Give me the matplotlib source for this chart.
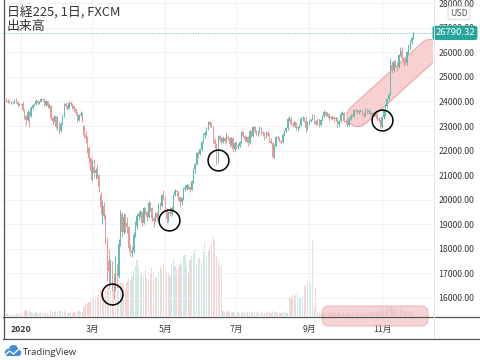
import numpy as np
import pandas as pd
import matplotlib
matplotlib.use('Agg')
import matplotlib.pyplot as plt
from matplotlib.patches import FancyBboxPatch, Circle, Rectangle
from matplotlib.ticker import StrMethodFormatter

plt.rcParams['font.family'] = ['Noto Sans CJK JP', 'DejaVu Sans']

# ---------------- data (daily OHLC, weekdays 2019-12-18 .. 2020-11-27) ----------------
dates = pd.bdate_range('2019-12-18', '2020-11-27')

opens = [
    24150, 24100, 24020, 23980, 23960, 23940, 23950, 24060, 23990, 23850,
    23880, 23900, 23650, 23400, 23250, 23550, 23400, 23750, 23850, 23900, 24030, 23940, 23990, 24100, 24060, 23850, 24010, 23800, 23830, 23320, 23200, 23400, 22980,
    23150, 22800, 23100, 23400, 23900, 23800, 23700, 23950, 23880, 23800, 23700, 23520, 23250, 23450, 23500, 23000, 22650, 22500, 22100, 21700,
    21150, 21350, 21100, 21200, 21000, 20200, 19700, 19750, 19350, 18400, 17500, 17100, 17200, 16600, 16500, 17300, 16900, 18200, 19400, 18700, 19300, 19050,
    18900, 18050, 17850, 17900, 18550, 18950, 19350, 19400, 19500, 19050, 19650, 19500, 19300, 19850, 19650, 19250, 19150, 19450, 19250, 19800, 19750, 20200,
    20150, 19600, 19200, 19500, 19400, 19650, 20200, 20350, 20300, 20100, 19900, 20050, 20450, 20450, 20600, 20500, 20400, 20750, 21250, 21450, 21900,
    21850, 22050, 22350, 22650, 22700, 22900, 23150, 23050, 23000, 22400, 22250, 21550, 22600, 22450, 22350, 22500, 22400, 22550, 22500, 22250, 22500, 22050,
    22300, 22150, 22200, 22350, 22750, 22600, 22450, 22550, 22300, 22800, 22600, 22950, 22780, 22700, 22730, 22900, 22750, 22700, 22550, 22720, 22650, 22400, 22300,
    21750, 22200, 22550, 22500, 22400, 22350, 22650, 22800, 22900, 23300, 23300, 23100, 23050, 23150, 22900, 22950, 23050, 23300, 23300, 23200, 22900,
    23150, 23200, 23280, 23450, 23200, 23100, 23280, 23050, 23250, 23400, 23580, 23450, 23500, 23320, 23380, 23350, 23300, 23320, 23080, 23200, 23500, 23520,
    23200, 23180, 23050, 23300, 23420, 23400, 23650, 23620, 23560, 23600, 23640, 23500, 23420, 23700, 23560, 23630, 23470, 23530, 23480, 23490, 23300, 23250,
    22980, 23350, 23600, 23800, 24100, 24300, 25500, 25300, 25600, 25450, 25400, 25900, 26050, 25750, 25600, 25550, 26000, 26300, 26400, 26600,
]
highs = [
    24200, 24150, 24080, 24050, 24000, 23980, 24080, 24120, 24020, 23920,
    23950, 24000, 23700, 23450, 23650, 23600, 23800, 23900, 23950, 24080, 24060, 24020, 24150, 24140, 24080, 24050, 24030, 23900, 23840, 23400, 23450, 23420, 23400,
    23200, 23150, 23450, 23950, 23980, 23850, 24020, 24000, 23920, 23850, 23720, 23550, 23500, 23600, 23550, 23050, 22800, 22600, 22200, 21750,
    21600, 21650, 21300, 21450, 21050, 20300, 20000, 19900, 19400, 18500, 18000, 17600, 17500, 17000, 17700, 17400, 18400, 19600, 19500, 19450, 19400, 19300,
    18950, 18200, 18100, 18700, 19150, 19450, 19550, 19580, 19550, 19700, 19700, 19550, 19950, 19900, 19700, 19300, 19500, 19500, 19850, 19900, 20250, 20400,
    20150, 19650, 19550, 19700, 19750, 20250, 20450, 20400, 20350, 20150, 20100, 20500, 20600, 20650, 20650, 20550, 20800, 21300, 21500, 21950, 22000,
    22100, 22400, 22700, 22800, 22950, 23200, 23200, 23150, 23000, 22500, 22300, 22650, 22650, 22550, 22600, 22550, 22700, 22650, 22550, 22550, 22500, 22350,
    22400, 22300, 22400, 22800, 22800, 22650, 22600, 22600, 22850, 22850, 23000, 23000, 22850, 22800, 23000, 22950, 22800, 22750, 22800, 22800, 22700, 22500, 22350,
    22250, 22600, 22650, 22550, 22450, 22700, 22850, 22950, 23350, 23400, 23350, 23150, 23200, 23150, 23000, 23100, 23350, 23400, 23350, 23350, 23200,
    23250, 23300, 23500, 23450, 23250, 23300, 23300, 23300, 23450, 23650, 23600, 23550, 23520, 23420, 23450, 23400, 23380, 23350, 23250, 23550, 23600, 23550,
    23300, 23250, 23350, 23480, 23500, 23680, 23700, 23680, 23650, 23700, 23650, 23550, 23750, 23720, 23680, 23650, 23580, 23560, 23550, 23500, 23380, 23280,
    23400, 23650, 23900, 24150, 24350, 25750, 25650, 25700, 25700, 25600, 25950, 26220, 26200, 25800, 25750, 26050, 26350, 26500, 26650, 26830,
]
lows = [
    24050, 23980, 23950, 23920, 23900, 23900, 23930, 23950, 23820, 23800,
    23850, 23600, 23300, 23050, 23200, 22960, 23380, 23700, 23800, 23850, 23880, 23900, 23960, 24000, 23800, 23830, 23750, 23750, 23250, 23100, 23150, 22900, 22850,
    22680, 22750, 23050, 23380, 23750, 23650, 23680, 23800, 23700, 23600, 23450, 23150, 23200, 23350, 23150, 22500, 22300, 21900, 21500, 20800,
    20800, 20900, 20850, 20900, 20300, 19400, 19000, 19200, 18200, 16700, 16400, 16600, 16300, 15950, 16300, 16400, 16800, 18100, 18500, 18600, 18700, 18650,
    17900, 17700, 17650, 17850, 18500, 18800, 19200, 19300, 18950, 19000, 19400, 19150, 19250, 19550, 19150, 18900, 19100, 19150, 19200, 19600, 19700, 20000,
    19550, 19050, 19100, 19350, 19350, 19600, 20150, 20150, 20000, 19700, 19800, 20000, 20350, 20400, 20450, 20300, 20380, 20700, 21100, 21400, 21700,
    21800, 22000, 22300, 22500, 22650, 22850, 22950, 22900, 22300, 22100, 21400, 21500, 22350, 22250, 22300, 22250, 22350, 22450, 22150, 22200, 21950, 22000,
    22050, 22050, 22150, 22300, 22550, 22350, 22400, 22200, 22250, 22550, 22550, 22700, 22650, 22600, 22700, 22650, 22600, 22450, 22500, 22600, 22350, 22250, 21700,
    21700, 22150, 22450, 22350, 22250, 22300, 22600, 22750, 22850, 23200, 23050, 22950, 23000, 22850, 22800, 22900, 23000, 23200, 23150, 22700, 22850,
    23050, 23150, 23250, 23100, 23050, 23050, 22950, 23000, 23200, 23380, 23400, 23400, 23250, 23280, 23250, 23150, 23200, 22950, 23000, 23180, 23450, 23150,
    23100, 22950, 23000, 23250, 23350, 23380, 23550, 23500, 23500, 23550, 23450, 23350, 23400, 23500, 23500, 23420, 23450, 23400, 23420, 23200, 23150, 22900,
    22900, 23300, 23400, 23750, 24000, 24250, 25150, 25200, 25350, 25250, 25350, 25850, 25700, 25450, 25480, 25500, 25950, 26150, 26350, 26550,
]
closes = [
    24100, 24020, 23980, 23960, 23940, 23950, 24060, 23990, 23850, 23880,
    23900, 23650, 23400, 23250, 23550, 23400, 23750, 23850, 23900, 24030, 23940, 23990, 24100, 24060, 23850, 24010, 23800, 23830, 23320, 23200, 23400, 22980, 23150,
    22800, 23100, 23400, 23900, 23800, 23700, 23950, 23880, 23800, 23700, 23520, 23250, 23450, 23500, 23250, 22650, 22500, 22100, 21700, 21150,
    21350, 21100, 21200, 21000, 20500, 19700, 19750, 19350, 18400, 17500, 17100, 17200, 16600, 16500, 17300, 16900, 18200, 19400, 18700, 19300, 19050, 18900,
    18050, 17850, 17900, 18550, 18950, 19350, 19400, 19500, 19050, 19650, 19500, 19300, 19850, 19650, 19250, 19150, 19450, 19250, 19800, 19750, 20200, 20150,
    19600, 19200, 19500, 19400, 19650, 20200, 20350, 20300, 20100, 19900, 20050, 20450, 20450, 20600, 20500, 20400, 20750, 21250, 21450, 21900, 21850,
    22050, 22350, 22650, 22700, 22900, 23150, 23050, 23000, 22400, 22250, 21550, 22600, 22450, 22350, 22500, 22400, 22550, 22500, 22250, 22500, 22050, 22300,
    22150, 22200, 22350, 22750, 22600, 22450, 22550, 22300, 22800, 22600, 22950, 22780, 22700, 22730, 22900, 22750, 22700, 22550, 22720, 22650, 22400, 22300, 21750,
    22200, 22550, 22500, 22400, 22350, 22650, 22800, 22900, 23300, 23300, 23100, 23050, 23150, 22900, 22950, 23050, 23300, 23300, 23200, 22900, 23150,
    23200, 23280, 23450, 23200, 23100, 23280, 23050, 23250, 23400, 23580, 23450, 23500, 23320, 23380, 23350, 23300, 23320, 23080, 23200, 23500, 23520, 23200,
    23180, 23050, 23300, 23420, 23400, 23650, 23620, 23560, 23600, 23640, 23500, 23420, 23700, 23560, 23630, 23470, 23530, 23480, 23490, 23300, 23250, 22980,
    23350, 23600, 23800, 24100, 24250, 25500, 25300, 25600, 25450, 25400, 25900, 26050, 25750, 25600, 25550, 26000, 26300, 26400, 26600, 26790.32,
]
volumes = [
    2, 2, 3, 2, 1, 1, 2, 2, 3, 2,
    1, 3, 5, 6, 5, 6, 4, 3, 3, 4, 3, 3, 4, 3, 3, 3, 3, 2, 5, 4, 4, 5, 5,
    6, 5, 5, 6, 4, 3, 3, 4, 3, 4, 3, 4, 5, 4, 4, 9, 11, 13, 14, 17,
    16, 18, 17, 19, 22, 26, 24, 22, 27, 29, 28, 26, 30, 27, 22, 25, 30, 34, 33, 30, 28, 34,
    38, 36, 40, 45, 50, 56, 48, 42, 44, 40, 46, 38, 36, 42, 48, 44, 40, 38, 45, 50, 46, 53,
    48, 44, 42, 40, 52, 58, 50, 46, 48, 52, 54, 60, 61, 50, 44, 56, 60, 62, 66, 52, 58,
    58, 55, 64, 74, 60, 66, 70, 72, 79, 76, 60, 54, 50, 52, 5, 4, 4, 5, 4, 3, 4, 5,
    4, 4, 3, 4, 5, 4, 3, 4, 4, 3, 5, 4, 3, 4, 3, 4, 3, 3, 4, 3, 4, 3, 5,
    4, 4, 3, 3, 3, 4, 4, 3, 5, 19, 19, 21, 20, 22, 23, 18, 17, 19, 30, 31, 33,
    34, 32, 76, 8, 28, 4, 3, 3, 4, 3, 4, 3, 3, 4, 3, 4, 3, 3, 4, 3, 4, 3,
    3, 4, 3, 3, 4, 3, 4, 3, 4, 3, 3, 4, 4, 3, 4, 5, 4, 3, 4, 4, 5, 5,
    5, 6, 5, 6, 7, 9, 8, 8, 7, 6, 7, 8, 6, 5, 5, 4, 5, 4, 5, 4,
]
tick_months = ['2020-01', '2020-03', '2020-05', '2020-07', '2020-09', '2020-11']
tick_labels = ['2020', '3月', '5月', '7月', '9月', '11月']
price_ticks = list(range(16000, 29000, 1000))
title1 = '日経225, 1日, FXCM'
title2 = '出来高'

# ---------------- styling ----------------
W, H = 480, 360
UP, DOWN = '#62bcb1', '#e99896'
VUP, VDOWN = '#cfe9e6', '#f7d4d3'
TXT = '#3a3a3a'

fig = plt.figure(figsize=(W / 100, H / 100), dpi=100)
fig.patch.set_facecolor('white')

L_, R_, B_, T_ = 3, 433, 316, 0
rect = [L_ / W, 1 - B_ / H, (R_ - L_) / W, (B_ - T_) / H]
axv = fig.add_axes(rect, zorder=0)
ax = fig.add_axes(rect, zorder=1)
ax.patch.set_alpha(0)

x = np.arange(len(dates))
o, h, l, c = (np.asarray(v, float) for v in (opens, highs, lows, closes))
up = c >= o
xlim = (-0.9, 258.8)

# volume
axv.bar(x, volumes, width=0.7, color=np.where(up, VUP, VDOWN), linewidth=0)
axv.set_xlim(*xlim)
axv.set_ylim(0, 316)
axv.axis('off')

# annotation band (under candles)
band_x = [213.5, 257.0]
band_y = [23420, 26080]
ax.plot(band_x, band_y, lw=16.5, color='#eba3a3', solid_capstyle='round', zorder=1.5)
ax.plot(band_x, band_y, lw=15.0, color='#f8d0d0', solid_capstyle='round', zorder=1.6)

# candles
col = np.where(up, UP, DOWN)
ax.vlines(x, l, h, colors=col, lw=0.7, zorder=3)
ax.bar(x, np.maximum(np.abs(c - o), 20), bottom=np.minimum(o, c), width=0.7,
       color=col, linewidth=0, zorder=3)

ax.set_xlim(*xlim)
ax.set_ylim(15267, 28129)

# ticks
tpos = [int(np.argmax(dates.strftime('%Y-%m') == m)) for m in tick_months]
ax.set_xticks(tpos, tick_labels)
ax.set_yticks(price_ticks)
ax.yaxis.set_major_formatter(StrMethodFormatter('{x:.2f}'))
ax.yaxis.tick_right()
ax.tick_params(axis='y', length=0, pad=4, labelsize=6.3, labelcolor=TXT)
ax.tick_params(axis='x', length=0, pad=6.5, labelsize=6.3, labelcolor=TXT)
ax.get_xticklabels()[0].set_fontweight('bold')
ax.grid(True, color='#eef0f4', lw=0.6)
ax.set_axisbelow(True)
for s in ax.spines.values():
    s.set_visible(False)

# last price line and label
ax.axhline(c[-1], color='#26a69a', lw=0.7, ls=(0, (1, 1.5)), alpha=0.7, zorder=2)
ax.text((455 - L_) / (R_ - L_), c[-1], f'{c[-1]:.2f}', transform=ax.get_yaxis_transform(),
        ha='center', va='center', fontsize=6.8, color='white', clip_on=False, zorder=10,
        bbox=dict(boxstyle='round,pad=0.28,rounding_size=0.25', fc='#26a69a', ec='none'))
ax.text((459 - L_) / (R_ - L_), 1 - 13 / (B_ - T_), 'USD', transform=ax.transAxes,
        ha='center', va='center', fontsize=6.3, color='#555555', clip_on=False, zorder=10,
        bbox=dict(boxstyle='round,pad=0.25,rounding_size=0.3', fc='white', ec='#d0d3da', lw=0.6))

# circles
circ_x = [65, 99.4, 129, 228]
circ_y = [16163, 19175, 21617, 23245]
ax.plot(circ_x, circ_y, 'o', ms=15, mfc='none', mec='black', mew=1.1, zorder=6, clip_on=False)

# titles
fig.text(7 / W, 1 - 13.5 / H, title1, fontsize=9.3, va='center', ha='left', color='#333333')
fig.text(7 / W, 1 - 26.5 / H, title2, fontsize=9.3, va='center', ha='left', color='#333333')

# decoration layer in pixel coordinates
deco = fig.add_axes([0, 0, 1, 1], zorder=5)
deco.set_xlim(0, W)
deco.set_ylim(H, 0)
deco.axis('off')
deco.patch.set_alpha(0)
LC = '#555555'
deco.plot([3.5, 3.5], [0, 338.5], color=LC, lw=0.9)
deco.plot([3, W], [316.5, 316.5], color=LC, lw=0.9)
deco.plot([3, W], [338.5, 338.5], color=LC, lw=0.9)
deco.plot([433.5, 433.5], [0, 338], color='#e3e5ea', lw=0.7)
deco.add_patch(FancyBboxPatch((322, 306), 106, 20, boxstyle='round,pad=0,rounding_size=7',
                              fc='#f2b2b2', ec='#e49393', lw=0.8, alpha=0.55))

# TradingView logo
LOGO = '#3d8fd6'
for (cx, cy, r) in [(8.5, 352.5, 3.6), (13.5, 349.5, 4.6), (18.0, 352.8, 3.2)]:
    deco.add_patch(Circle((cx, cy), r, fc=LOGO, ec='none'))
deco.add_patch(Rectangle((6, 352), 13, 4, fc=LOGO, ec='none'))
deco.plot([5.5, 9.5, 13.5, 19.5], [355, 351, 354, 348.5], color='white', lw=0.9)
deco.text(23, 352.5, 'TradingView', fontsize=6.8, va='center', ha='left', color='#333333',
          family=['Open Sans', 'DejaVu Sans'])

fig.savefig('out.png', dpi=100, facecolor='white')
